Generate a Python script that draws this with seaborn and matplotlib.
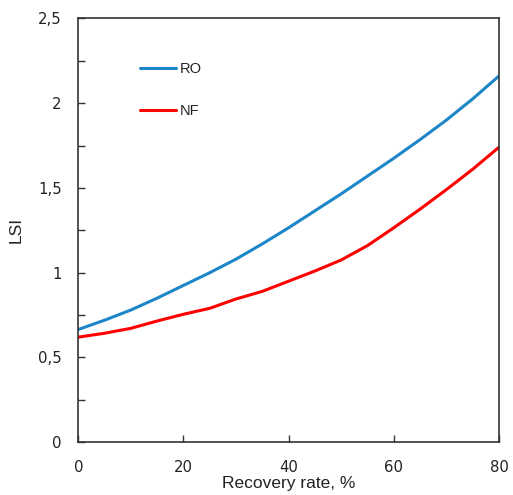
import matplotlib
matplotlib.use("Agg")
import matplotlib.pyplot as plt
import seaborn as sns
import pandas as pd
from matplotlib.ticker import MultipleLocator, FuncFormatter

recovery = [0, 5, 10, 15, 20, 25, 30, 35, 40, 45, 50, 55, 60, 65, 70, 75, 80]
lsi_ro = [0.665, 0.72, 0.78, 0.85, 0.925, 1.00, 1.08, 1.17, 1.265, 1.365, 1.465, 1.57, 1.675, 1.785, 1.90, 2.025, 2.16]
lsi_nf = [0.62, 0.643, 0.672, 0.715, 0.755, 0.79, 0.845, 0.89, 0.95, 1.01, 1.075, 1.16, 1.265, 1.375, 1.49, 1.61, 1.74]
series_names = ["RO", "NF"]

df = pd.concat([
    pd.DataFrame({"x": recovery, "y": lsi_ro, "series": series_names[0]}),
    pd.DataFrame({"x": recovery, "y": lsi_nf, "series": series_names[1]}),
])

sns.set_style("white")
plt.rcParams["font.family"] = ["Liberation Sans", "DejaVu Sans"]

fig = plt.figure(figsize=(5.13, 4.95), dpi=100)
ax = fig.add_axes([0.1526, 0.1065, 0.8201, 0.8565])

sns.lineplot(data=df, x="x", y="y", hue="series",
             palette={"RO": "#1c86c8", "NF": "#ff0000"},
             linewidth=2.2, ax=ax)

ax.set_xlim(0, 80)
ax.set_ylim(0, 2.5)
ax.xaxis.set_major_locator(MultipleLocator(20))
ax.yaxis.set_major_locator(MultipleLocator(0.5))
ax.yaxis.set_minor_locator(MultipleLocator(0.25))
ax.yaxis.set_major_formatter(FuncFormatter(lambda v, p: ("%g" % v).replace(".", ",")))

ax.tick_params(axis="both", which="both", direction="in", length=5, width=1,
               color="#333333", bottom=True, left=True, top=False, right=False)
ax.tick_params(axis="both", which="major", labelsize=10.7, labelcolor="#222222")
ax.tick_params(axis="x", which="major", pad=12.5)
ax.tick_params(axis="y", which="major", pad=12)
for lab in ax.get_xticklabels() + ax.get_yticklabels():
    lab.set_family("DejaVu Sans")
for s in ax.spines.values():
    s.set_color("#333333")
    s.set_linewidth(1.2)

ax.set_xlabel("Recovery rate, %", fontsize=12.5, color="#222222", labelpad=1)
ax.set_ylabel("LSI", fontsize=12.5, color="#222222", labelpad=10)

leg = ax.legend(loc="upper left", bbox_to_anchor=(0.115, 0.928), frameon=False,
                fontsize=10.5, handlelength=2.45, handletextpad=0.3,
                labelspacing=1.95)
for t in leg.get_texts():
    t.set_color("#222222")

fig.savefig("out.png", dpi=100)
